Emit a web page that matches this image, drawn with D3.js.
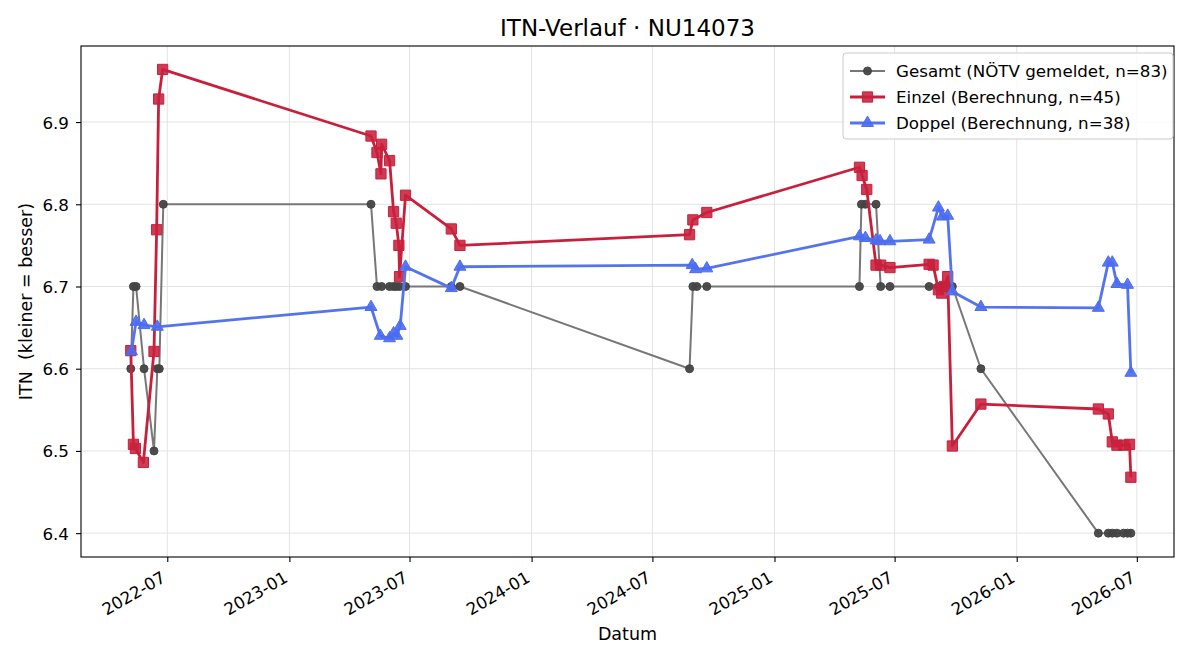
<!DOCTYPE html>
<html>
<head>
<meta charset="utf-8">
<script src="https://cdn.jsdelivr.net/npm/d3@7"></script>
<style>
  body { margin: 0; background: #fff; }
  svg { font-family: "DejaVu Sans", sans-serif; }
</style>
</head>
<body>
<div id="chart"></div>
<script>
// values
var gesamtDates = ["2022-05-07", "2022-05-11", "2022-05-15", "2022-05-27", "2022-06-11", "2022-06-16",
    "2022-06-19", "2022-06-25", "2023-05-04", "2023-05-13", "2023-05-20", "2023-06-01", "2023-06-07",
    "2023-06-11", "2023-06-16", "2023-06-25", "2023-09-02", "2023-09-15", "2024-08-26", "2024-08-31",
    "2024-09-06", "2024-09-21", "2025-05-09", "2025-05-12", "2025-05-18", "2025-06-03", "2025-06-10",
    "2025-06-24", "2025-08-22", "2025-09-05", "2025-09-11", "2025-09-16", "2025-09-26", "2025-11-08",
    "2026-05-04", "2026-05-19", "2026-05-25", "2026-06-01", "2026-06-11", "2026-06-17", "2026-06-22"];
var gesamtValues = [6.6, 6.7, 6.7, 6.6, 6.5, 6.6,
    6.6, 6.8, 6.8, 6.7, 6.7, 6.7, 6.7,
    6.7, 6.7, 6.7, 6.7, 6.7, 6.6, 6.7,
    6.7, 6.7, 6.7, 6.8, 6.8, 6.8, 6.7,
    6.7, 6.7, 6.7, 6.7, 6.7, 6.7, 6.6,
    6.4, 6.4, 6.4, 6.4, 6.4, 6.4, 6.4];

var einzelDates = ["2022-05-07", "2022-05-11", "2022-05-14", "2022-05-26", "2022-06-11", "2022-06-15",
    "2022-06-18", "2022-06-24", "2023-05-04", "2023-05-13", "2023-05-19", "2023-05-20", "2023-06-01",
    "2023-06-07", "2023-06-11", "2023-06-15", "2023-06-16", "2023-06-25", "2023-09-02", "2023-09-15",
    "2024-08-26", "2024-08-31", "2024-09-21", "2025-05-09", "2025-05-13", "2025-05-20", "2025-06-03",
    "2025-06-10", "2025-06-24", "2025-08-22", "2025-08-28", "2025-09-05", "2025-09-10", "2025-09-14",
    "2025-09-19", "2025-09-26", "2025-11-08", "2026-05-04", "2026-05-19", "2026-05-25", "2026-06-01",
    "2026-06-11", "2026-06-20", "2026-06-22"];
var einzelValues = [6.622, 6.508, 6.503, 6.486, 6.621, 6.769,
    6.928, 6.964, 6.883, 6.863, 6.837, 6.873, 6.853,
    6.791, 6.777, 6.750, 6.712, 6.811, 6.770, 6.750,
    6.763, 6.781, 6.790, 6.845, 6.835, 6.818, 6.726,
    6.726, 6.723, 6.727, 6.726, 6.696, 6.692, 6.700,
    6.712, 6.506, 6.557, 6.551, 6.545, 6.511, 6.507,
    6.507, 6.508, 6.468];

var doppelDates = ["2022-05-08", "2022-05-15", "2022-05-27", "2022-06-16", "2023-05-04", "2023-05-18",
    "2023-06-01", "2023-06-07", "2023-06-12", "2023-06-17", "2023-06-25", "2023-09-02", "2023-09-15",
    "2024-08-30", "2024-09-04", "2024-09-21", "2025-05-09", "2025-05-18", "2025-06-03", "2025-06-09",
    "2025-06-24", "2025-08-22", "2025-09-05", "2025-09-11", "2025-09-19", "2025-09-26", "2025-11-08",
    "2026-05-04", "2026-05-19", "2026-05-25", "2026-06-01", "2026-06-17", "2026-06-22"];
var doppelValues = [6.621, 6.657, 6.653, 6.651, 6.675, 6.640,
    6.637, 6.643, 6.640, 6.652, 6.724, 6.698, 6.724,
    6.726, 6.721, 6.722, 6.761, 6.759, 6.756, 6.755,
    6.755, 6.757, 6.796, 6.785, 6.786, 6.694, 6.675,
    6.674, 6.729, 6.729, 6.703, 6.702, 6.595];

var yTicks = [6.4, 6.5, 6.6, 6.7, 6.8, 6.9];
var legendLabels = ["Gesamt (NÖTV gemeldet, n=83)", "Einzel (Berechnung, n=45)", "Doppel (Berechnung, n=38)"];

var svgWidth = 1200;
var svgHeight = 660;
var margin = { top: 46, right: 26, bottom: 103, left: 81 };
var chartWidth = svgWidth - margin.left - margin.right;
var chartHeight = svgHeight - margin.top - margin.bottom;

var parseDate = d3.timeParse("%Y-%m-%d");

function toPoints(dates, values) {
    return dates.map(function(d, i) {
        return { date: parseDate(d), value: values[i] };
    });
}

var series = [
    { name: legendLabels[0], data: toPoints(gesamtDates, gesamtValues), line: "#777777", mark: "#444444",
      width: 2, symbol: d3.symbolCircle, size: 50, opacity: 0.95 },
    { name: legendLabels[1], data: toPoints(einzelDates, einzelValues), line: "#c8203c", mark: "#c8203c",
      width: 2.8, symbol: d3.symbolSquare, size: 105, opacity: 0.88 },
    { name: legendLabels[2], data: toPoints(doppelDates, doppelValues), line: "#5474ee", mark: "#4c6cf0",
      width: 2.8, symbol: d3.symbolTriangle, size: 62, opacity: 0.92 }
];

var svg = d3.select("#chart").append("svg")
    .attr("width", svgWidth)
    .attr("height", svgHeight);

var chartGroup = svg.append("g")
    .attr("transform", `translate(${margin.left}, ${margin.top})`);

var xScale = d3.scaleTime()
    .domain([parseDate("2022-02-21"), parseDate("2026-08-26")])
    .range([0, chartWidth]);

var yScale = d3.scaleLinear()
    .domain([6.371, 6.9925])
    .range([chartHeight, 0]);

var xTicks = xScale.ticks(d3.timeMonth.every(6));

// grid
chartGroup.append("g").selectAll("line.gx")
    .data(xTicks)
    .enter()
    .append("line")
    .attr("x1", d => xScale(d)).attr("x2", d => xScale(d))
    .attr("y1", 0).attr("y2", chartHeight)
    .attr("stroke", "#e3e3e3").attr("stroke-width", 1);

chartGroup.append("g").selectAll("line.gy")
    .data(yTicks)
    .enter()
    .append("line")
    .attr("x1", 0).attr("x2", chartWidth)
    .attr("y1", d => yScale(d)).attr("y2", d => yScale(d))
    .attr("stroke", "#e3e3e3").attr("stroke-width", 1);

// axes
var xAxis = d3.axisBottom(xScale)
    .tickValues(xTicks)
    .tickFormat(d3.timeFormat("%Y-%m"))
    .tickSize(5)
    .tickSizeOuter(0);

var yAxis = d3.axisLeft(yScale)
    .tickValues(yTicks)
    .tickFormat(d3.format(".1f"))
    .tickSize(5)
    .tickSizeOuter(0);

var xAxisGroup = chartGroup.append("g")
    .attr("transform", `translate(0, ${chartHeight})`)
    .call(xAxis);
xAxisGroup.select(".domain").remove();
xAxisGroup.selectAll(".tick line").attr("stroke", "#000").attr("stroke-width", 1.1);
xAxisGroup.selectAll(".tick text")
    .attr("text-anchor", "end")
    .attr("dy", null)
    .attr("y", 0)
    .attr("transform", "translate(-1, 24) rotate(-30)")
    .style("font-family", "DejaVu Sans")
    .style("font-size", "16.7px")
    .attr("fill", "#000");

var yAxisGroup = chartGroup.append("g").call(yAxis);
yAxisGroup.select(".domain").remove();
yAxisGroup.selectAll(".tick line").attr("stroke", "#000").attr("stroke-width", 1.1);
yAxisGroup.selectAll(".tick text")
    .attr("x", -12)
    .attr("dy", "0.36em")
    .style("font-family", "DejaVu Sans")
    .style("font-size", "16.7px")
    .attr("fill", "#000");

// lines and markers
var line = d3.line()
    .x(d => xScale(d.date))
    .y(d => yScale(d.value));

series.forEach(function(s) {
    var g = chartGroup.append("g");
    g.append("path")
        .datum(s.data)
        .attr("fill", "none")
        .attr("stroke", s.line)
        .attr("stroke-width", s.width)
        .attr("stroke-linejoin", "round")
        .attr("d", line);

    g.selectAll("path.mark")
        .data(s.data)
        .enter()
        .append("path")
        .attr("class", "mark")
        .attr("d", d3.symbol().type(s.symbol).size(s.size))
        .attr("transform", d => `translate(${xScale(d.date)}, ${yScale(d.value)})`)
        .attr("fill", s.mark)
        .attr("fill-opacity", s.opacity)
        .attr("stroke", s.mark)
        .attr("stroke-width", 1);
});

// frame
chartGroup.append("rect")
    .attr("x", 0).attr("y", 0)
    .attr("width", chartWidth).attr("height", chartHeight)
    .attr("fill", "none")
    .attr("stroke", "#000")
    .attr("stroke-width", 1.1);

// legend
var legend = chartGroup.append("g")
    .attr("transform", `translate(${chartWidth - 331}, 7)`);

legend.append("rect")
    .attr("width", 330).attr("height", 86)
    .attr("rx", 3)
    .attr("fill", "#fff").attr("fill-opacity", 0.85)
    .attr("stroke", "#cccccc");

series.forEach(function(s, i) {
    var row = legend.append("g").attr("transform", `translate(0, ${18 + i * 26})`);
    row.append("line")
        .attr("x1", 7).attr("x2", 42)
        .attr("stroke", s.line)
        .attr("stroke-width", s.width);
    row.append("path")
        .attr("d", d3.symbol().type(s.symbol).size(s.size))
        .attr("transform", "translate(24.5, 0)")
        .attr("fill", s.mark)
        .attr("fill-opacity", s.opacity)
        .attr("stroke", s.mark);
    row.append("text")
        .attr("x", 53)
        .attr("dy", "0.36em")
        .style("font-size", "16.7px")
        .text(s.name);
});

// labels
svg.append("text")
    .attr("x", margin.left + chartWidth / 2)
    .attr("y", 36)
    .attr("text-anchor", "middle")
    .style("font-size", "23px")
    .text("ITN-Verlauf · NU14073");

svg.append("text")
    .attr("x", margin.left + chartWidth / 2)
    .attr("y", 640)
    .attr("text-anchor", "middle")
    .style("font-size", "17.5px")
    .text("Datum");

svg.append("text")
    .attr("transform", `translate(32, ${margin.top + chartHeight / 2}) rotate(-90)`)
    .attr("text-anchor", "middle")
    .style("font-size", "17.5px")
    .style("white-space", "pre")
    .attr("xml:space", "preserve")
    .text("ITN  (kleiner = besser)");
</script>
</body>
</html>
